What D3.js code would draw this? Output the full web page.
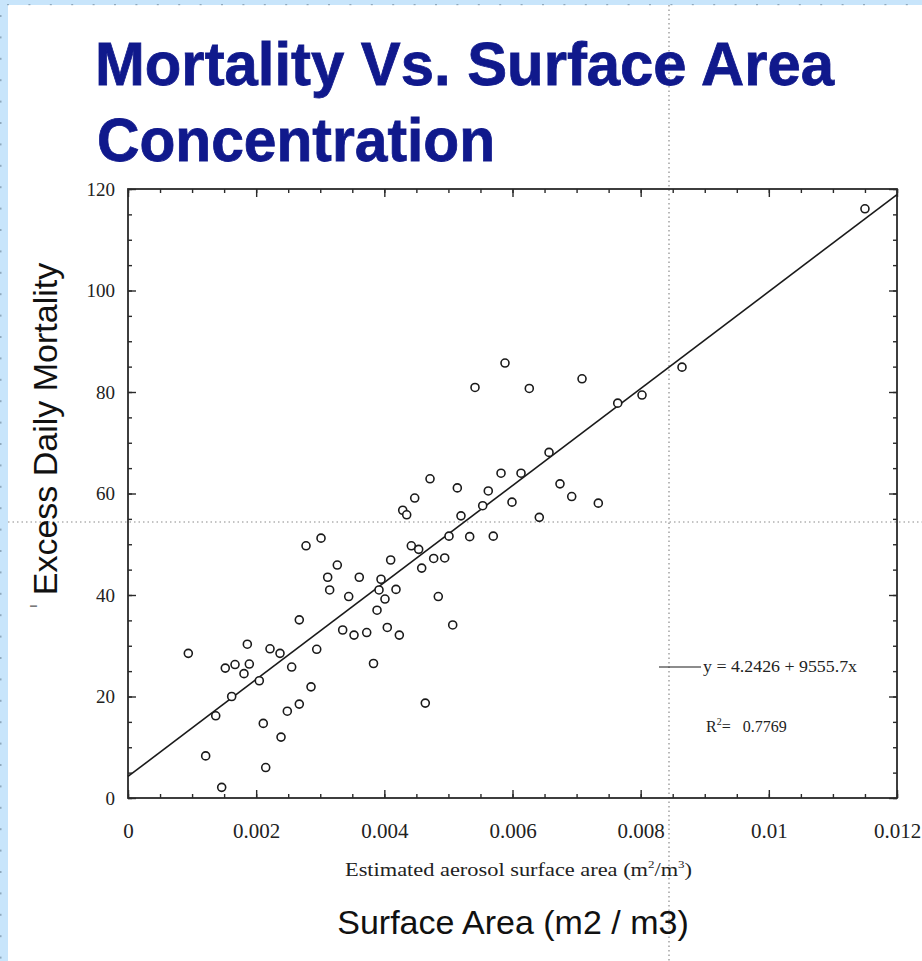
<!DOCTYPE html>
<html>
<head>
<meta charset="utf-8">
<script src="https://cdn.jsdelivr.net/npm/d3@7"></script>
<style>
  html, body { margin: 0; padding: 0; background: #fff; }
  svg { display: block; }
</style>
</head>
<body>
<svg id="chart" width="922" height="961"></svg>
<script>
// ---------- data ----------
const titleLines = ["Mortality Vs. Surface Area", "Concentration"];
const xLabelInner = "Estimated aerosol surface area";
const xLabelOuter = "Surface Area (m2 / m3)";
const yLabel = "Excess Daily Mortality";

const xTicks = [0, 0.002, 0.004, 0.006, 0.008, 0.01, 0.012];
const xTickLabels = ["0", "0.002", "0.004", "0.006", "0.008", "0.01", "0.012"];
const yTicks = [0, 20, 40, 60, 80, 100, 120];
const yTickLabels = ["0", "20", "40", "60", "80", "100", "120"];

const surfaceArea = [
  0.000941, 0.001212, 0.001369, 0.001462, 0.001518, 0.001618, 0.00167, 0.00181,
  0.001862, 0.001893, 0.002049, 0.002111, 0.002149, 0.002216, 0.002372, 0.002388,
  0.002486, 0.002554, 0.002673, 0.002673, 0.002778, 0.002856, 0.002945, 0.003012,
  0.003116, 0.003147, 0.003266, 0.00335, 0.003444, 0.003527, 0.003609, 0.003725,
  0.003831, 0.003886, 0.003917, 0.003948, 0.00401, 0.004046, 0.004099, 0.004182,
  0.004234, 0.004287, 0.004349, 0.004421, 0.004474, 0.004536, 0.004583, 0.004639,
  0.004713, 0.00477, 0.004842, 0.004942, 0.005009, 0.005067, 0.005139, 0.005196,
  0.005332, 0.005415, 0.005535, 0.005622, 0.0057, 0.005821, 0.005883, 0.005992,
  0.006133, 0.006262, 0.006418, 0.00657, 0.006741, 0.006924, 0.007085, 0.007339,
  0.007642, 0.008021, 0.008645, 0.0115
];
const mortality = [
  28.5, 8.3, 16.2, 2.1, 25.6, 20.0, 26.3, 24.5,
  30.3, 26.4, 23.1, 14.7, 6.0, 29.4, 28.5, 12.0,
  17.1, 25.8, 35.1, 18.5, 49.7, 21.9, 29.3, 51.2,
  43.5, 41.0, 45.9, 33.1, 39.7, 32.1, 43.5, 32.6,
  26.5, 37.0, 41.0, 43.1, 39.2, 33.6, 46.9, 41.1,
  32.1, 56.7, 55.8, 49.7, 59.1, 49.0, 45.3, 18.7,
  62.9, 47.2, 39.7, 47.3, 51.6, 34.1, 61.1, 55.6,
  51.5, 80.9, 57.6, 60.5, 51.6, 64.0, 85.7, 58.3,
  64.0, 80.7, 55.3, 68.1, 61.9, 59.4, 82.6, 58.1,
  77.8, 79.4, 84.9, 116.1
];
const fitIntercept = 4.2426;
const fitSlope = 9555.7;
const rSquared = "0.7769";

// ---------- layout ----------
const W = 922, H = 961;
const plot = { left: 128, right: 897, top: 189, bottom: 798 };
const axisColor = "#2a2a2a";
const serif = "'Liberation Serif', 'Times New Roman', serif";
const sans = "'Liberation Sans', Arial, sans-serif";

const svg = d3.select("#chart");

// background frame (slide border)
svg.append("rect").attr("x", 0).attr("y", 0).attr("width", W).attr("height", H).attr("fill", "#c8e5fb");
svg.append("rect").attr("x", 8).attr("y", 5).attr("width", W - 8).attr("height", H - 5).attr("fill", "#ffffff");
const dotG = svg.append("g").attr("fill", "#8fa9bd");
d3.range(8, W, 21.4).forEach(x => dotG.append("rect").attr("x", x - 1).attr("y", 4).attr("width", 2).attr("height", 1.2));
d3.range(15, H, 21.4).forEach(y => dotG.append("rect").attr("x", 0).attr("y", y).attr("width", 1.5).attr("height", 2));

// guide dotted lines (slide guides)
svg.append("line").attr("x1", 8).attr("x2", W).attr("y1", 522).attr("y2", 522)
  .attr("stroke", "#8a8a8a").attr("stroke-width", 1.2).attr("stroke-dasharray", "1.5,3");
svg.append("line").attr("x1", 669).attr("x2", 669).attr("y1", 5).attr("y2", H)
  .attr("stroke", "#8a8a8a").attr("stroke-width", 1.2).attr("stroke-dasharray", "1.5,3");

// title
const title = svg.append("g").attr("font-family", sans)
  .attr("font-weight", "bold").attr("fill", "#10198c").attr("stroke", "#10198c").attr("stroke-width", 0.8);
title.append("text").attr("x", 95).attr("y", 85).attr("font-size", 61)
  .attr("textLength", 739).attr("lengthAdjust", "spacingAndGlyphs").text(titleLines[0]);
title.append("text").attr("x", 97).attr("y", 161).attr("font-size", 61)
  .attr("textLength", 398).attr("lengthAdjust", "spacingAndGlyphs").text(titleLines[1]);

// scales
const x = d3.scaleLinear().domain([0, 0.012]).range([plot.left, plot.right]);
const y = d3.scaleLinear().domain([0, 120]).range([plot.bottom, plot.top]);

const minorX = d3.range(0, 0.01201, 0.0005);
const minorY = d3.range(0, 120.1, 5);

function styleAxis(g) {
  g.select(".domain").remove();
  g.selectAll("line").attr("stroke", axisColor).attr("stroke-width", 1.4);
}

// minor ticks
svg.append("g").attr("transform", `translate(0,${plot.bottom})`)
  .call(d3.axisBottom(x).tickValues(minorX).tickSize(-4).tickFormat(""))
  .call(styleAxis);
svg.append("g").attr("transform", `translate(0,${plot.top})`)
  .call(d3.axisTop(x).tickValues(minorX).tickSize(-4).tickFormat(""))
  .call(styleAxis);
svg.append("g").attr("transform", `translate(${plot.left},0)`)
  .call(d3.axisLeft(y).tickValues(minorY).tickSize(-4).tickFormat(""))
  .call(styleAxis);
svg.append("g").attr("transform", `translate(${plot.right},0)`)
  .call(d3.axisRight(y).tickValues(minorY).tickSize(-4).tickFormat(""))
  .call(styleAxis);

// major ticks + labels
const xAxis = svg.append("g").attr("transform", `translate(0,${plot.bottom})`)
  .call(d3.axisBottom(x).tickValues(xTicks).tickSize(-8).tickFormat((d, i) => xTickLabels[i]))
  .call(styleAxis);
xAxis.selectAll("text").attr("y", 40).attr("dy", null)
  .attr("font-family", serif).attr("font-size", 21).attr("fill", "#222");

const yAxis = svg.append("g").attr("transform", `translate(${plot.left},0)`)
  .call(d3.axisLeft(y).tickValues(yTicks).tickSize(-8).tickFormat((d, i) => yTickLabels[i]))
  .call(styleAxis);
yAxis.selectAll("text").attr("x", -13).attr("dy", "0.34em")
  .attr("font-family", serif).attr("font-size", 19).attr("fill", "#222");

svg.append("g").attr("transform", `translate(0,${plot.top})`)
  .call(d3.axisTop(x).tickValues(xTicks).tickSize(-8).tickFormat("")).call(styleAxis);
svg.append("g").attr("transform", `translate(${plot.right},0)`)
  .call(d3.axisRight(y).tickValues(yTicks).tickSize(-8).tickFormat("")).call(styleAxis);

// frame
svg.append("rect").attr("x", plot.left).attr("y", plot.top)
  .attr("width", plot.right - plot.left).attr("height", plot.bottom - plot.top)
  .attr("fill", "none").attr("stroke", axisColor).attr("stroke-width", 1.8);

// regression line
const fitX = [0, 0.012];
svg.append("line")
  .attr("x1", x(fitX[0])).attr("y1", y(fitIntercept + fitSlope * fitX[0]))
  .attr("x2", x(fitX[1])).attr("y2", y(fitIntercept + fitSlope * fitX[1]))
  .attr("stroke", "#1a1a1a").attr("stroke-width", 1.6);

// points
svg.append("g").selectAll("circle").data(surfaceArea).join("circle")
  .attr("cx", d => x(d)).attr("cy", (d, i) => y(mortality[i])).attr("r", 4)
  .attr("fill", "#fff").attr("stroke", "#1a1a1a").attr("stroke-width", 1.6);

// legend
svg.append("line").attr("x1", 659).attr("x2", 701).attr("y1", 667).attr("y2", 667)
  .attr("stroke", "#1a1a1a").attr("stroke-width", 1.2);
svg.append("text").attr("x", 703).attr("y", 672).attr("font-family", serif).attr("font-size", 16)
  .attr("textLength", 154).attr("lengthAdjust", "spacingAndGlyphs")
  .attr("fill", "#222").text(`y = ${fitIntercept} + ${fitSlope}x`);
const r2 = svg.append("text").attr("x", 706).attr("y", 732).attr("font-family", serif)
  .attr("font-size", 16).attr("fill", "#222");
r2.append("tspan").text("R");
r2.append("tspan").attr("font-size", 10).attr("dy", -7).text("2");
r2.append("tspan").attr("dy", 7).attr("xml:space", "preserve").text("=  ");
r2.append("tspan").attr("dx", 4).text(rSquared);

// inner x label
const xl = svg.append("text").attr("x", 345).attr("y", 876)
  .attr("font-family", serif).attr("font-size", 19).attr("fill", "#222")
  .attr("textLength", 347).attr("lengthAdjust", "spacingAndGlyphs");
xl.append("tspan").text(xLabelInner + " (m");
xl.append("tspan").attr("font-size", 11).attr("dy", -8).text("2");
xl.append("tspan").attr("dy", 8).text("/m");
xl.append("tspan").attr("font-size", 11).attr("dy", -8).text("3");
xl.append("tspan").attr("dy", 8).text(")");

// outer axis labels
svg.append("text").attr("x", 513).attr("y", 934).attr("text-anchor", "middle")
  .attr("font-family", sans).attr("font-size", 34).attr("fill", "#111")
  .text(xLabelOuter);
svg.append("text").attr("transform", "translate(57,429) rotate(-90)").attr("text-anchor", "middle")
  .attr("font-family", sans).attr("font-size", 34).attr("fill", "#111")
  .text(yLabel);
svg.append("text").attr("transform", "translate(37,606) rotate(-90)").attr("text-anchor", "middle")
  .attr("font-family", sans).attr("font-size", 12).attr("fill", "#333")
  .text("ı");
</script>
</body>
</html>
